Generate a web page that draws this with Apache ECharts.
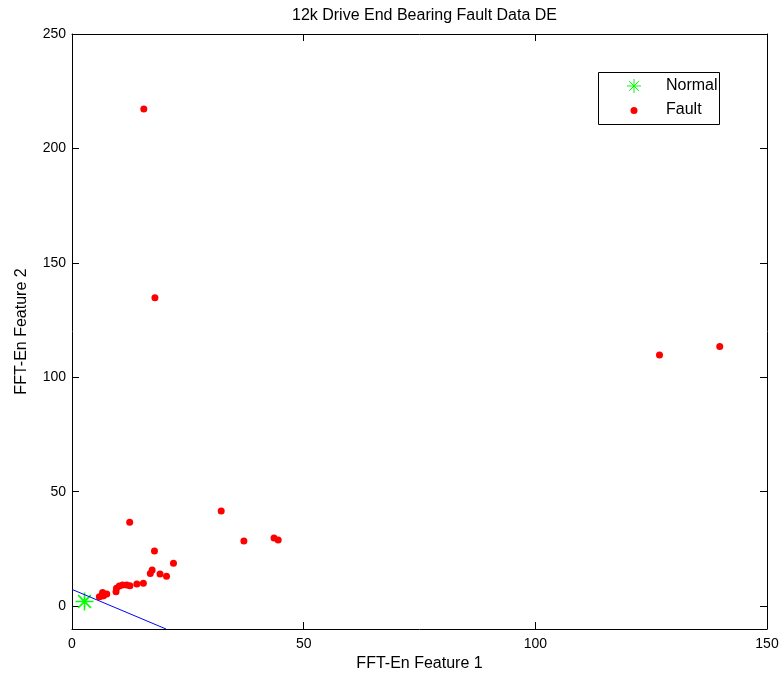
<!DOCTYPE html>
<html>
<head>
<meta charset="utf-8">
<script src="https://cdn.jsdelivr.net/npm/echarts@6/dist/echarts.min.js"></script>
<style>
html,body{margin:0;padding:0;background:#fff;}
#chart{width:784px;height:676px;}
</style>
</head>
<body>
<div id="chart"></div>
<script>
var titleText = '12k Drive End Bearing Fault Data DE';
var xName = 'FFT-En Feature 1';
var yName = 'FFT-En Feature 2';
var xTicks = [0, 50, 100, 150];
var yTicks = [0, 50, 100, 150, 200, 250];
var normalX = [2.7];
var normalY = [2.0];
var faultX = [15.5, 17.9, 126.8, 139.8, 43.6, 44.5, 12.45, 32.2, 37.1, 17.8, 21.9, 17.3, 16.9, 19.0, 20.4, 15.4, 14.0, 12.5, 11.8, 10.9, 10.2, 9.6, 9.5, 7.5, 6.6, 6.4, 5.9, 6.8];
var faultY = [217.2, 134.8, 109.7, 113.5, 29.8, 28.9, 36.6, 41.6, 28.5, 24.1, 18.7, 15.8, 14.3, 14.0, 13.0, 10.0, 9.7, 8.9, 9.2, 9.2, 8.8, 7.8, 6.3, 5.3, 5.9, 4.4, 4.1, 4.5];
var lineX = [0, 20.3];
var lineY = [7.3, -10];
var legendNames = ['Normal', 'Fault'];

var FONT = 'Liberation Sans, Arial, sans-serif';
var starPath = 'path://M0,-1L0,1M-1,0L1,0M-0.7071,-0.7071L0.7071,0.7071M-0.7071,0.7071L0.7071,-0.7071';

function zip(a, b) { return a.map(function (v, i) { return [v, b[i]]; }); }

var chart = echarts.init(document.getElementById('chart'), null, {renderer: 'canvas'});

function axisCommon(extra) {
  var base = {
    type: 'value',
    axisLine: {show: true, onZero: false, lineStyle: {color: '#000', width: 1}},
    splitLine: {show: false},
    axisTick: {show: true, inside: true, length: 7, lineStyle: {color: '#000', width: 1}},
    axisLabel: {color: '#000', fontFamily: FONT, fontSize: 14}
  };
  return Object.assign(base, extra);
}

var cx = 634, cy = 86, r = 7, d = r * 0.7071;

var option = {
  animation: false,
  backgroundColor: '#fff',
  title: {
    text: titleText,
    left: 419.5,
    textAlign: 'center',
    top: 3,
    textStyle: {color: '#000', fontFamily: FONT, fontSize: 16, fontWeight: 'normal'}
  },
  grid: {left: 72, top: 34, right: 17, bottom: 47, outerBoundsMode: 'none', containLabel: false},
  xAxis: [
    axisCommon({
      min: 0, max: 150, position: 'bottom',
      name: xName, nameLocation: 'middle', nameGap: 24,
      nameTextStyle: {color: '#000', fontFamily: FONT, fontSize: 16},
      axisTick: {show: true, inside: true, length: 7, customValues: xTicks, lineStyle: {color: '#000'}},
      axisLabel: {color: '#000', fontFamily: FONT, fontSize: 14, margin: 8, customValues: xTicks}
    }),
    axisCommon({
      min: 0, max: 150, position: 'top',
      axisTick: {show: true, inside: true, length: 7, customValues: xTicks, lineStyle: {color: '#000'}},
      axisLabel: {show: false}
    })
  ],
  yAxis: [
    axisCommon({
      min: -10, max: 250, position: 'left',
      name: yName, nameLocation: 'middle', nameGap: 42,
      nameTextStyle: {color: '#000', fontFamily: FONT, fontSize: 16},
      axisTick: {show: true, inside: true, length: 7, customValues: yTicks, lineStyle: {color: '#000'}},
      axisLabel: {color: '#000', fontFamily: FONT, fontSize: 14, margin: 6, customValues: yTicks}
    }),
    axisCommon({
      min: -10, max: 250, position: 'right',
      axisTick: {show: true, inside: true, length: 7, customValues: yTicks, lineStyle: {color: '#000'}},
      axisLabel: {show: false}
    })
  ],
  series: [
    {
      name: legendNames[0],
      type: 'scatter',
      symbol: starPath,
      symbolSize: 18,
      itemStyle: {color: 'rgba(0,0,0,0)', borderColor: '#00ff00', borderWidth: 1.6, opacity: 1},
      data: zip(normalX, normalY),
      z: 3
    },
    {
      name: legendNames[1],
      type: 'scatter',
      symbol: 'circle',
      symbolSize: 7,
      itemStyle: {color: '#ff0000', opacity: 1},
      data: zip(faultX, faultY),
      z: 4
    },
    {
      type: 'line',
      data: zip(lineX, lineY),
      showSymbol: false,
      symbol: 'none',
      lineStyle: {color: '#0000ff', width: 1},
      clip: true,
      silent: true,
      z: 5
    }
  ],
  graphic: [
    {type: 'rect', shape: {x: 598.5, y: 72.5, width: 121, height: 52}, style: {fill: '#fff', stroke: '#000', lineWidth: 1}, z: 100},
    {type: 'line', shape: {x1: cx, y1: cy - r, x2: cx, y2: cy + r}, style: {stroke: '#00ff00', lineWidth: 1}, z: 101},
    {type: 'line', shape: {x1: cx - r, y1: cy, x2: cx + r, y2: cy}, style: {stroke: '#00ff00', lineWidth: 1}, z: 101},
    {type: 'line', shape: {x1: cx - d, y1: cy - d, x2: cx + d, y2: cy + d}, style: {stroke: '#00ff00', lineWidth: 1}, z: 101},
    {type: 'line', shape: {x1: cx - d, y1: cy + d, x2: cx + d, y2: cy - d}, style: {stroke: '#00ff00', lineWidth: 1}, z: 101},
    {type: 'circle', shape: {cx: 634, cy: 110.5, r: 3.5}, style: {fill: '#ff0000'}, z: 101},
    {type: 'text', x: 666, y: 86, style: {text: legendNames[0], fill: '#000', font: '16px ' + FONT, verticalAlign: 'middle', textAlign: 'left'}, z: 101},
    {type: 'text', x: 666, y: 110, style: {text: legendNames[1], fill: '#000', font: '16px ' + FONT, verticalAlign: 'middle', textAlign: 'left'}, z: 101}
  ]
};
chart.setOption(option);
</script>
</body>
</html>
